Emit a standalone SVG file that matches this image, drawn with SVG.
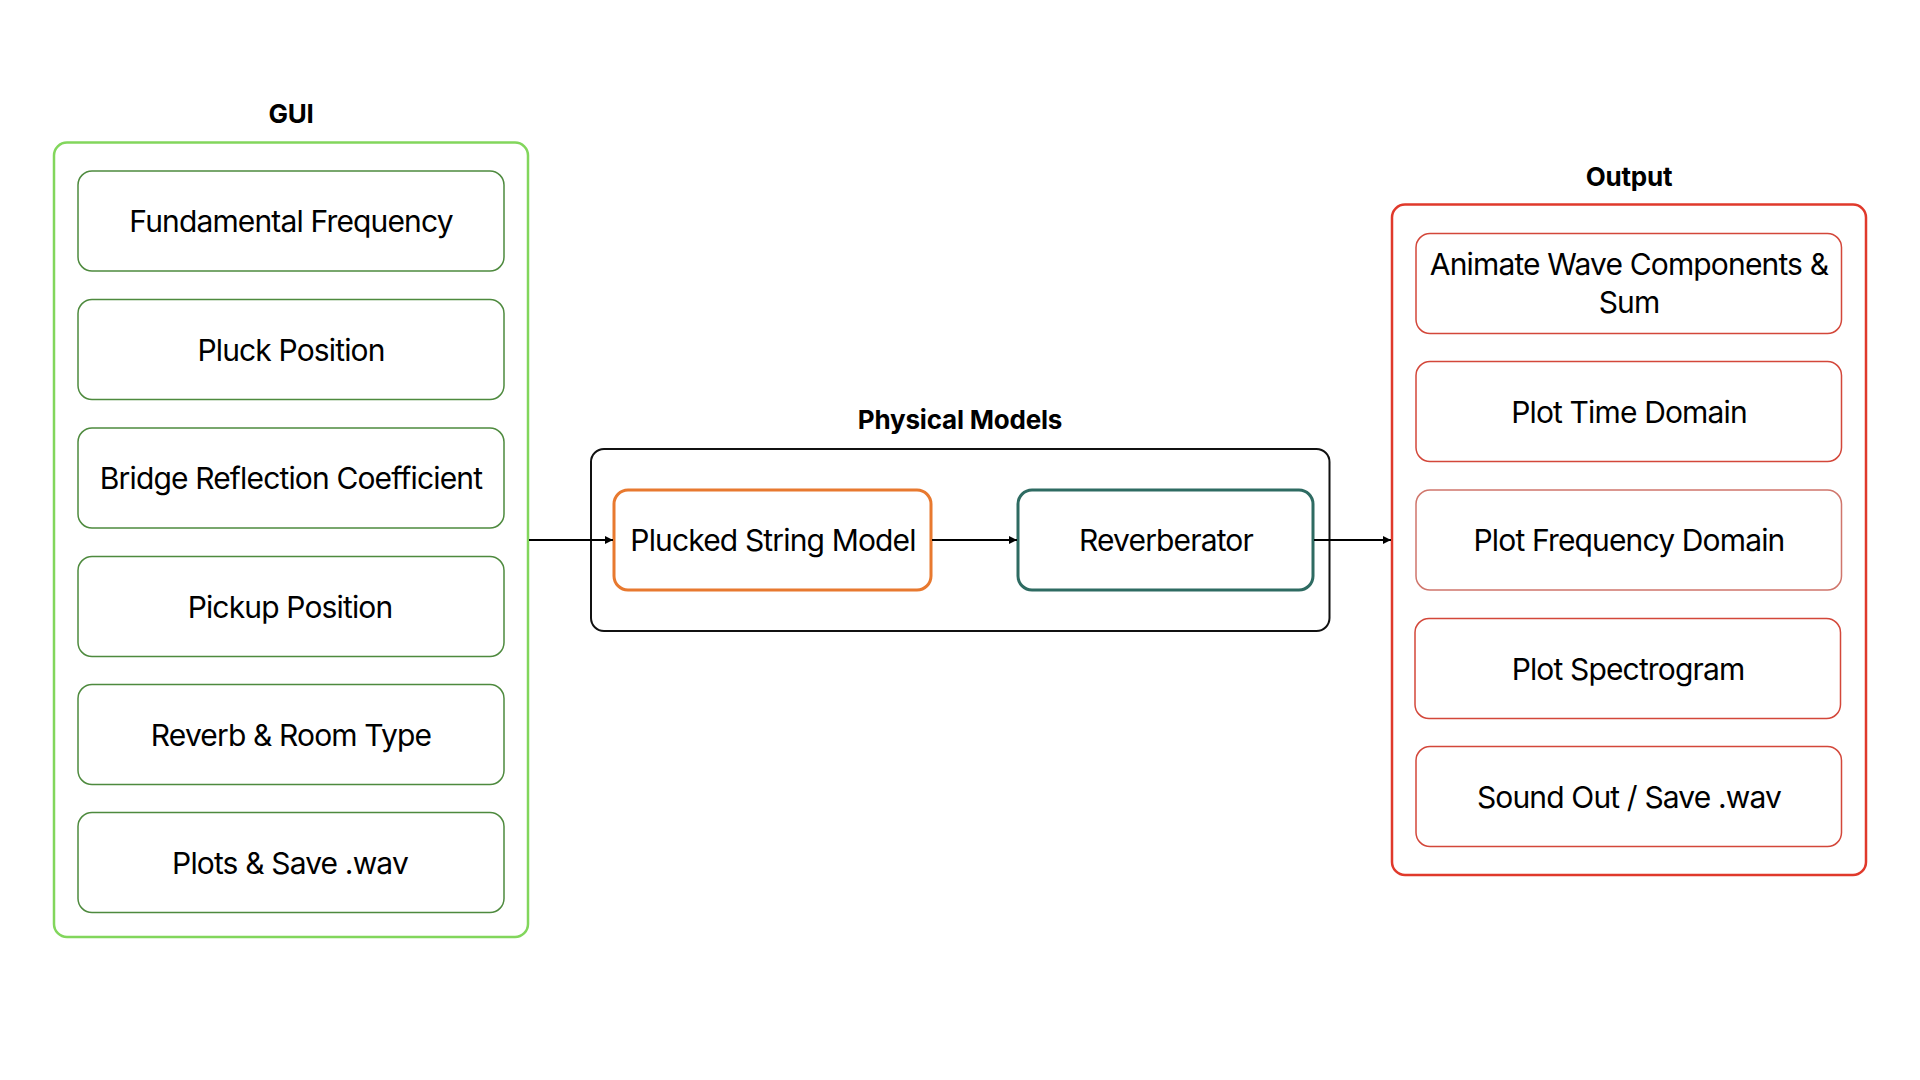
<svg xmlns="http://www.w3.org/2000/svg" width="1920" height="1080" viewBox="0 0 1920 1080">
<defs>
<style>
.lbl{font-family:Inter,"Liberation Sans","DejaVu Sans",sans-serif;font-size:30px;fill:#000;text-anchor:middle;letter-spacing:-0.85px}
.ttl{font-family:Inter,"Liberation Sans","DejaVu Sans",sans-serif;font-size:26px;font-weight:700;fill:#000;text-anchor:middle;letter-spacing:-0.2px}
.gin{fill:#fff;stroke:#4E8A3E;stroke-width:1.5}
.rin{fill:#fff;stroke:#D3473A;stroke-width:1.5}
.edge{stroke:#000;stroke-width:2;fill:none}
</style>
<marker id="ah" viewBox="0 0 10 10" refX="10" refY="5" markerWidth="8" markerHeight="8" markerUnits="userSpaceOnUse" orient="auto">
<path d="M0,0 L10,5 L0,10 z" fill="#000"/>
</marker>
</defs>
<rect width="1920" height="1080" fill="#fff"/>

<g id="gui">
<text class="ttl" x="291" y="123">GUI</text>
<rect x="54" y="142.5" width="474" height="794.5" rx="13" fill="none" stroke="#82D65C" stroke-width="2.5"/>
</g>
<g id="gui-fundamental"><rect class="gin" x="78" y="171" width="426" height="100" rx="14"/><text class="lbl" x="291" y="232">Fundamental Frequency</text></g>
<g id="gui-pluck"><rect class="gin" x="78" y="299.5" width="426" height="100" rx="14"/><text class="lbl" x="291" y="360.5">Pluck Position</text></g>
<g id="gui-bridge"><rect class="gin" x="78" y="428" width="426" height="100" rx="14"/><text class="lbl" x="291" y="489">Bridge Reflection Coefficient</text></g>
<g id="gui-pickup"><rect class="gin" x="78" y="556.5" width="426" height="100" rx="14"/><text class="lbl" x="290" y="617.5">Pickup Position</text></g>
<g id="gui-reverb"><rect class="gin" x="78" y="684.5" width="426" height="100" rx="14"/><text class="lbl" x="291" y="745.5">Reverb &amp; Room Type</text></g>
<g id="gui-plots"><rect class="gin" x="78" y="812.5" width="426" height="100" rx="14"/><text class="lbl" x="290" y="873.5">Plots &amp; Save .wav</text></g>

<g id="physical">
<text class="ttl" x="960" y="429">Physical Models</text>
<rect x="591" y="449" width="738.5" height="182" rx="13" fill="none" stroke="#111" stroke-width="2"/>
</g>
<g id="plucked"><rect x="614" y="490" width="317" height="100" rx="14" fill="#fff" stroke="#E8792F" stroke-width="3"/><text class="lbl" x="773" y="551">Plucked String Model</text></g>
<g id="reverberator"><rect x="1018" y="490" width="295" height="100" rx="14" fill="#fff" stroke="#2E6B62" stroke-width="3"/><text class="lbl" x="1166" y="551">Reverberator</text></g>

<g id="output">
<text class="ttl" x="1629" y="186">Output</text>
<rect x="1392" y="204.5" width="474" height="670.5" rx="13" fill="none" stroke="#E0392B" stroke-width="2.5"/>
</g>
<g id="out-animate"><rect class="rin" x="1416" y="233.5" width="425.5" height="100" rx="14"/><text class="lbl" x="1629" y="275">Animate Wave Components &amp;</text><text class="lbl" x="1629" y="313">Sum</text></g>
<g id="out-time"><rect class="rin" x="1416" y="361.5" width="425.5" height="100" rx="14"/><text class="lbl" x="1629" y="422.5">Plot Time Domain</text></g>
<g id="out-freq"><rect class="rin" x="1416" y="490" width="425.5" height="100" rx="14" style="stroke:#D0766C"/><text class="lbl" x="1629" y="551">Plot Frequency Domain</text></g>
<g id="out-spec"><rect class="rin" x="1415" y="618.5" width="425.5" height="100" rx="14"/><text class="lbl" x="1628" y="679.5">Plot Spectrogram</text></g>
<g id="out-sound"><rect class="rin" x="1416" y="746.5" width="425.5" height="100" rx="14"/><text class="lbl" x="1629" y="807.5">Sound Out / Save .wav</text></g>

<g id="connectors">
<line class="edge" x1="529" y1="540" x2="613" y2="540" marker-end="url(#ah)"/>
<line class="edge" x1="932" y1="540" x2="1017" y2="540" marker-end="url(#ah)"/>
<line class="edge" x1="1314" y1="540" x2="1391" y2="540" marker-end="url(#ah)"/>
</g>
</svg>
